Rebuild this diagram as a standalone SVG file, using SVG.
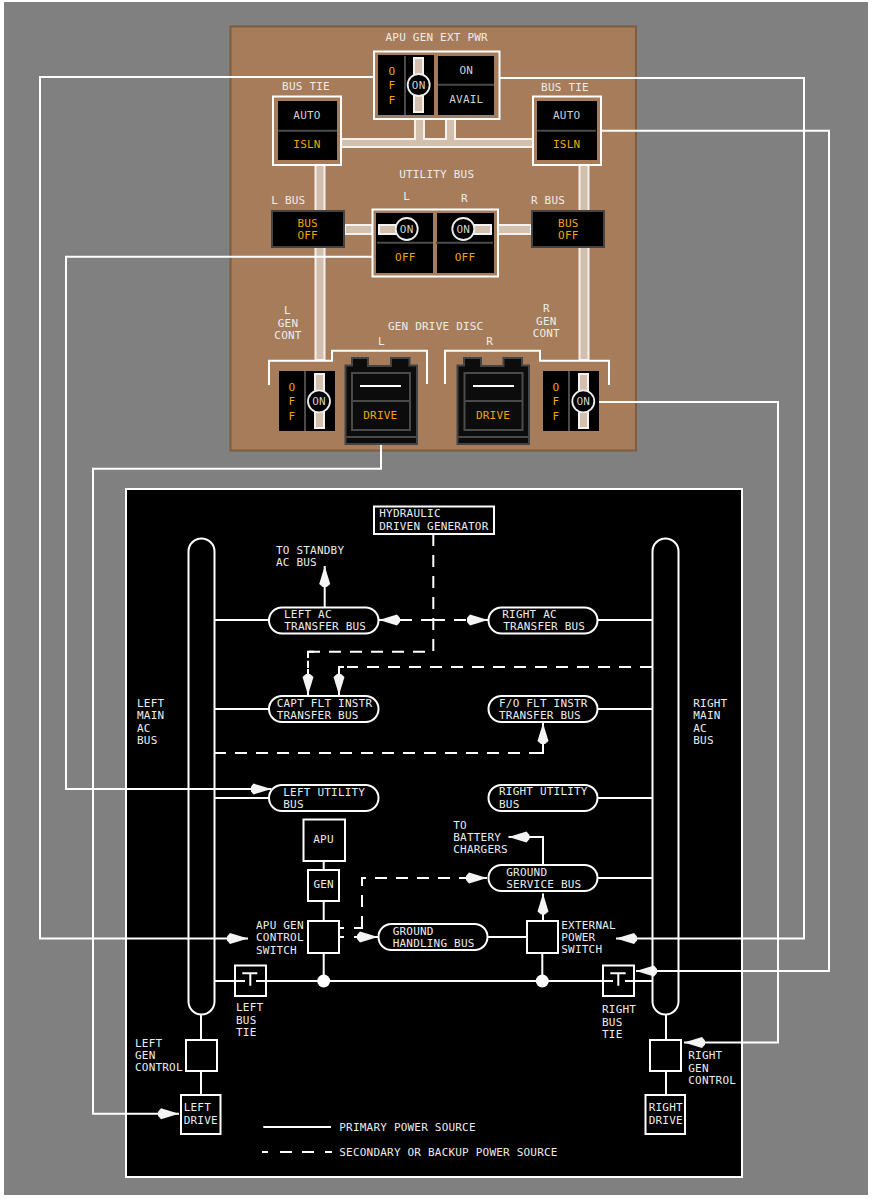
<svg xmlns="http://www.w3.org/2000/svg" width="875" height="1199" viewBox="0 0 875 1199">
<style>
text{font-family:"DejaVu Sans Mono","Liberation Mono",monospace;font-size:11px;letter-spacing:.2px;fill:#ececec}
.m{text-anchor:middle}
.a{fill:#f0a500}
.g{fill:#d0d0d0}
.w{fill:none;stroke:#fff;stroke-width:2}
.b{fill:#000;stroke:#fff;stroke-width:2}
.d{fill:none;stroke:#fff;stroke-width:2;stroke-dasharray:12 9}
.t{fill:#d2bfae;stroke:#f4f1ee;stroke-width:2}
.k{fill:#000}
.dv{stroke:#4a4a4a;stroke-width:2;fill:none}
.c{fill:#000;stroke:#eee;stroke-width:1.8}
.bx{fill:#000;stroke:#444;stroke-width:2}
.dr{fill:#0c0c0c;stroke:#444;stroke-width:2}
.f{fill:#fff}
</style>
<defs>
<marker id="ah" markerUnits="userSpaceOnUse" markerWidth="22" markerHeight="14" viewBox="0 -7 22 14" refX="21" refY="0" orient="auto">
<path d="M21,0 3,-5.5 0,-2 0,2 3,5.5Z" fill="#f4f4f4"/>
</marker>
</defs>
<rect width="875" height="1199" fill="#fff"/>
<rect x="4" y="2" width="864" height="1193" fill="#808080"/>

<g id="panel">
<rect x="230.500" y="26.500" width="405.500" height="424" fill="#a67c5b" stroke="#7e5c40" stroke-width="2"/>
<path class="t" d="M341,139H415V119H424V139H446V119H455V139H533V147H341Z"/>
<rect class="t" x="315.500" y="165" width="9" height="195"/>
<rect class="t" x="579.500" y="165" width="9" height="195"/>
<rect class="t" x="345" y="225" width="27" height="9"/>
<rect class="t" x="498" y="225" width="33" height="9"/>
<text class="m" x="436.700" y="41">APU GEN EXT PWR</text>
<text class="m" x="306" y="90">BUS TIE</text>
<text class="m" x="565" y="91">BUS TIE</text>
<text class="m" x="436.700" y="178">UTILITY BUS</text>
<text class="m" x="406.700" y="200">L</text>
<text class="m" x="464.300" y="202">R</text>
<text class="m" x="288.300" y="204">L BUS</text>
<text class="m" x="548" y="204">R BUS</text>
<text class="m" x="287.300" y="314">L</text>
<text class="m" x="288" y="327">GEN</text>
<text class="m" x="288" y="339">CONT</text>
<text class="m" x="546.300" y="312">R</text>
<text class="m" x="546.300" y="325">GEN</text>
<text class="m" x="546.300" y="337">CONT</text>
<text class="m" x="435.700" y="330">GEN DRIVE DISC</text>
<text class="m" x="381.300" y="345">L</text>
<text class="m" x="489.700" y="345">R</text>
<path class="w" d="M269,385V360.700H332V350.700H427V384"/>
<path class="w" d="M445,384V350.700H540V360.700H609V385"/>
</g>

<g id="apu-gen-ext-pwr-switch">
<rect x="374" y="51.500" width="125.500" height="67.500" fill="none" stroke="#fff" stroke-width="2"/>
<rect class="k" x="378" y="55" width="56" height="60"/>
<path class="dv" d="M405,56V115"/>
<rect class="t" x="414" y="58" width="9" height="54"/>
<circle class="c" cx="418.700" cy="85" r="11"/>
<text class="m g" x="418.700" y="89">ON</text>
<text class="m a" x="392" y="75">O</text><text class="m a" x="392" y="89.300">F</text><text class="m a" x="392" y="104">F</text>
<rect class="k" x="438" y="56" width="56" height="59"/>
<path class="dv" d="M438,84.700H494"/>
<text class="m g" x="466.300" y="74">ON</text>
<text class="m g" x="466.300" y="103">AVAIL</text>
</g>

<g id="bus-tie-left">
<rect x="273" y="96.500" width="68" height="68.500" fill="none" stroke="#fff" stroke-width="2"/>
<rect class="k" x="278" y="101" width="59" height="59"/>
<path class="dv" d="M278,130.700H337"/>
<text class="m g" x="307" y="119">AUTO</text>
<text class="m a" x="307" y="148">ISLN</text>
</g>
<g id="bus-tie-right">
<rect x="533" y="96.500" width="68" height="68.500" fill="none" stroke="#fff" stroke-width="2"/>
<rect class="k" x="537" y="101" width="60" height="59"/>
<path class="dv" d="M537,130.700H596"/>
<text class="m g" x="566.700" y="119">AUTO</text>
<text class="m a" x="566.700" y="148">ISLN</text>
</g>
<g id="l-bus">
<rect class="bx" x="272" y="211" width="72" height="36"/>
<text class="m a" x="307.700" y="227">BUS</text><text class="m a" x="307.700" y="239">OFF</text>
</g>
<g id="r-bus">
<rect class="bx" x="532" y="211" width="72" height="36"/>
<text class="m a" x="568.300" y="227">BUS</text><text class="m a" x="568.300" y="239">OFF</text>
</g>
<g id="utility-bus-switch">
<rect x="372.500" y="209.500" width="125.500" height="67" fill="none" stroke="#fff" stroke-width="2"/>
<rect class="k" x="376" y="213" width="57" height="60"/>
<rect class="k" x="437" y="213" width="57" height="60"/>
<rect class="t" x="379" y="225" width="19" height="9"/>
<rect class="t" x="472" y="225" width="19" height="9"/>
<path class="dv" d="M377,242.700H433M436,242.700H493"/>
<circle class="c" cx="406.700" cy="229" r="11"/>
<circle class="c" cx="463.300" cy="229" r="11"/>
<text class="m g" x="406.700" y="233">ON</text>
<text class="m g" x="463.300" y="233">ON</text>
<text class="m a" x="405.300" y="261">OFF</text>
<text class="m a" x="465" y="261">OFF</text>
</g>
<g id="l-gen-cont-switch">
<rect class="k" x="279" y="371" width="56" height="60"/>
<path class="dv" d="M305,371V431"/>
<rect class="t" x="315" y="374" width="9" height="54"/>
<circle class="c" cx="319" cy="401.300" r="11"/>
<text class="m g" x="319" y="405.300">ON</text>
<text class="m a" x="292" y="391">O</text><text class="m a" x="292" y="405.300">F</text><text class="m a" x="292" y="420">F</text>
</g>
<g id="r-gen-cont-switch">
<rect class="k" x="543" y="371" width="56" height="60"/>
<path class="dv" d="M569,371V431"/>
<rect class="t" x="579" y="374" width="9" height="54"/>
<circle class="c" cx="583.300" cy="401.300" r="11"/>
<text class="m g" x="583.300" y="405.300">ON</text>
<text class="m a" x="556" y="391">O</text><text class="m a" x="556" y="405.300">F</text><text class="m a" x="556" y="420">F</text>
</g>
<g id="gen-drive-disc-l">
<path class="dr" d="M345.500,365.500H352V358H368V366H391V358H409.500V365.500H417V444H345.500Z"/>
<rect class="dv" x="352" y="373" width="58" height="57"/>
<path class="dv" d="M352,401H410M346,437H417"/>
<path d="M360,386H401" stroke="#fff" stroke-width="2"/>
<text class="m a" x="380.300" y="419">DRIVE</text>
</g>
<g id="gen-drive-disc-r">
<path class="dr" d="M457.500,365.500H464V358H481V366H503.500V358H522V365.500H529V444H457.500Z"/>
<rect class="dv" x="464.500" y="373" width="58" height="57"/>
<path class="dv" d="M464.500,401H522.500M458,437H529"/>
<path d="M473,386H514" stroke="#fff" stroke-width="2"/>
<text class="m a" x="493" y="419">DRIVE</text>
</g>

<g id="schematic">
<rect x="126" y="489" width="616" height="688" class="b"/>
</g>

<g id="connectors">
<path class="w" d="M373,77H40V938.500H248" marker-end="url(#ah)"/>
<path class="w" d="M500,78H804V938.500H616" marker-end="url(#ah)"/>
<path class="w" d="M601,130.700H829V971H636" marker-end="url(#ah)"/>
<path class="w" d="M372,256.700H66V789H271.500" marker-end="url(#ah)"/>
<path class="w" d="M599,402H778V1042.600H684" marker-end="url(#ah)"/>
<path class="w" d="M381,445V468.700H93V1113.700H179" marker-end="url(#ah)"/>
<path class="w" d="M214,620H269M214,709H269M214,798H269M597,620H652M597,709H652M597,798H652M597,878H652"/>
<path class="w" d="M324.700,607V566" marker-end="url(#ah)"/>
<path class="w" d="M543,865V837H508.500" marker-end="url(#ah)"/>
<path class="w" d="M323.700,861V870M323.700,901V921M323.700,953V981M542.300,953V981M487,937H527"/>
<path class="w" d="M543,921V893.500" marker-end="url(#ah)"/>
<path class="w" d="M214,981H245M256,981H613M625,981H652"/>
<path class="w" d="M201,1014V1040M201,1071V1095M666,1014V1040M666,1071V1095"/>
<path class="d" d="M433.300,534V651.700H308V668"/>
<path class="w" d="M308,658V651.700H314M308,669V695" marker-end="url(#ah)"/>
<path class="d" d="M652,667H347"/>
<path class="w" d="M344,667H339V695" marker-end="url(#ah)"/>
<path class="d" d="M433,620H400"/>
<path class="w" d="M400,620H379" marker-end="url(#ah)"/>
<path class="d" d="M433,620H467"/>
<path class="w" d="M467,620H488" marker-end="url(#ah)"/>
<path class="d" d="M214,753H536"/>
<path class="w" d="M536,753H543V723" marker-end="url(#ah)"/>
<path class="d" d="M362,928V878H466"/>
<path class="w" d="M339,928H344M354,928H362V920M466,878H487" marker-end="url(#ah)"/>
<path class="w" d="M339,937H344M354,937H378" marker-end="url(#ah)"/>
</g>

<g id="left-main-ac-bus">
<rect x="188.500" y="538.500" width="26" height="476" rx="13" fill="none" stroke="#fff" stroke-width="2"/>
<text x="137" y="707">LEFT</text><text x="137" y="719">MAIN</text><text x="137" y="732">AC</text><text x="137" y="744">BUS</text>
</g>
<g id="right-main-ac-bus">
<rect x="652.500" y="538.500" width="26" height="476" rx="13" fill="none" stroke="#fff" stroke-width="2"/>
<text x="693.300" y="707">RIGHT</text><text x="693.300" y="719">MAIN</text><text x="693.300" y="732">AC</text><text x="693.300" y="744">BUS</text>
</g>
<g id="hydraulic-generator">
<rect class="b" x="374" y="506.500" width="120" height="27.500"/>
<text x="379.300" y="517">HYDRAULIC</text><text x="379.300" y="530">DRIVEN GENERATOR</text>
</g>
<g id="to-standby"><text x="276" y="554">TO STANDBY</text><text x="276" y="566">AC BUS</text></g>
<g id="left-ac-transfer-bus">
<rect class="b" x="269" y="607.500" width="109.500" height="26" rx="13"/>
<text x="284" y="618">LEFT AC</text><text x="284.300" y="630">TRANSFER BUS</text>
</g>
<g id="right-ac-transfer-bus">
<rect class="b" x="488.500" y="607.500" width="109" height="26" rx="13"/>
<text x="502.300" y="618">RIGHT AC</text><text x="503.300" y="630">TRANSFER BUS</text>
</g>
<g id="capt-flt-instr-transfer-bus">
<rect class="b" x="269" y="696" width="109.500" height="26" rx="13"/>
<text x="276.700" y="707">CAPT FLT INSTR</text><text x="276.700" y="719">TRANSFER BUS</text>
</g>
<g id="fo-flt-instr-transfer-bus">
<rect class="b" x="488.500" y="696" width="109" height="26" rx="13"/>
<text x="499" y="707">F/O FLT INSTR</text><text x="499" y="719">TRANSFER BUS</text>
</g>
<g id="left-utility-bus">
<rect class="b" x="269" y="785" width="109.500" height="26" rx="13"/>
<text x="283.300" y="796">LEFT UTILITY</text><text x="283.300" y="808">BUS</text>
</g>
<g id="right-utility-bus">
<rect class="b" x="488.500" y="785" width="109" height="26" rx="13"/>
<text x="499" y="795">RIGHT UTILITY</text><text x="499" y="808">BUS</text>
</g>
<g id="apu"><rect class="b" x="303.500" y="819.500" width="41.500" height="41.500"/><text class="m" x="323.500" y="843">APU</text></g>
<g id="gen"><rect class="b" x="308" y="870" width="31" height="31"/><text class="m" x="323.700" y="888">GEN</text></g>
<g id="to-battery-chargers"><text x="453.300" y="829">TO</text><text x="453.300" y="841">BATTERY</text><text x="453.300" y="853">CHARGERS</text></g>
<g id="ground-service-bus">
<rect class="b" x="488.500" y="865" width="109" height="26" rx="13"/>
<text x="506.300" y="876">GROUND</text><text x="506.300" y="888">SERVICE BUS</text>
</g>
<g id="ground-handling-bus">
<rect class="b" x="378.500" y="924" width="109" height="26" rx="13"/>
<text x="392.700" y="935">GROUND</text><text x="392.700" y="947">HANDLING BUS</text>
</g>
<g id="apu-gen-control-switch">
<rect class="b" x="308" y="921" width="31" height="32"/>
<text x="256" y="929">APU GEN</text><text x="256" y="941">CONTROL</text><text x="256" y="954">SWITCH</text>
</g>
<g id="external-power-switch">
<rect class="b" x="527" y="921" width="31" height="32"/>
<text x="561.300" y="929">EXTERNAL</text><text x="561.300" y="941">POWER</text><text x="561.300" y="953">SWITCH</text>
</g>
<g id="bus-junction-1"><circle class="f" cx="323.700" cy="981" r="6.500"/></g>
<g id="bus-junction-2"><circle class="f" cx="542.300" cy="981" r="6.500"/></g>
<g id="left-bus-tie">
<rect x="235" y="965.500" width="31" height="30.500" fill="none" stroke="#fff" stroke-width="2"/>
<path class="w" d="M242.300,973.300H257.300M250.300,973.300V985.700"/>
<text x="236" y="1011">LEFT</text><text x="236" y="1024">BUS</text><text x="236" y="1036">TIE</text>
</g>
<g id="right-bus-tie">
<rect x="603" y="965.500" width="31" height="30.500" fill="none" stroke="#fff" stroke-width="2"/>
<path class="w" d="M610.300,973.300H625.700M618.300,973.300V985.700"/>
<text x="602" y="1013">RIGHT</text><text x="602" y="1026">BUS</text><text x="602" y="1038">TIE</text>
</g>
<g id="left-gen-control">
<rect class="b" x="186" y="1040" width="31" height="31"/>
<text x="135" y="1047">LEFT</text><text x="135" y="1059">GEN</text><text x="135" y="1071">CONTROL</text>
</g>
<g id="right-gen-control">
<rect class="b" x="650" y="1040" width="31" height="31"/>
<text x="688.300" y="1059">RIGHT</text><text x="688.300" y="1072">GEN</text><text x="688.300" y="1084">CONTROL</text>
</g>
<g id="left-drive">
<rect class="b" x="181" y="1095" width="39.500" height="39"/>
<text x="183.700" y="1111">LEFT</text><text x="183.700" y="1124">DRIVE</text>
</g>
<g id="right-drive">
<rect class="b" x="645.500" y="1095" width="39.500" height="39"/>
<text x="648.700" y="1111">RIGHT</text><text x="648.700" y="1124">DRIVE</text>
</g>
<g id="legend">
<path class="w" d="M263.300,1127H331"/>
<path class="w" d="M262,1152H268M280,1152H292M302,1152H314M325,1152H332"/>
<text x="339.300" y="1131">PRIMARY POWER SOURCE</text>
<text x="339.300" y="1156">SECONDARY OR BACKUP POWER SOURCE</text>
</g>
</svg>
